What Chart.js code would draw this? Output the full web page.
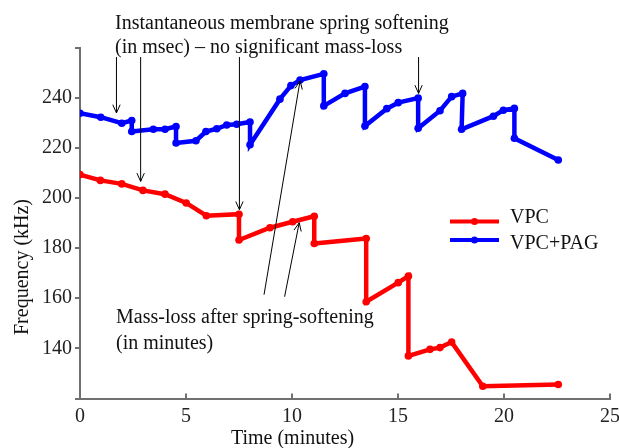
<!DOCTYPE html>
<html>
<head>
<meta charset="utf-8">
<script src="https://cdn.jsdelivr.net/npm/chart.js@4"></script>
<style>
  html, body { margin: 0; padding: 0; background: #fff; }
</style>
</head>
<body>
<canvas id="freqChart" width="619" height="448"></canvas>
<script>
// time (minutes) / frequency (kHz)
const vpcTime = [0, 0.96, 1.97, 2.97, 4.01, 5.01, 5.96, 7.5, 7.5, 8.96, 10.03, 11.05, 11.05,
    13.5, 13.5, 15.01, 15.49, 15.49, 16.51, 16.98, 17.53, 19.0, 22.56];
const vpcFreq = [209.3, 207.0, 205.6, 203.0, 201.5, 198.0, 192.9, 193.5, 183.2, 188.1, 190.5, 192.7, 181.8,
    183.8, 158.6, 166.2, 168.8, 137.0, 139.6, 140.3, 142.5, 124.9, 125.6];

const pagTime = [0, 0.98, 1.97, 2.44, 2.44, 3.46, 4.01, 4.53, 4.53, 5.47, 5.94, 6.45, 6.92, 7.39,
    8.02, 8.02, 9.43, 9.95, 10.38, 11.5, 11.5, 12.5, 13.44, 13.44, 14.47, 15.01, 15.95, 15.95,
    16.98, 17.53, 18.05, 18.0, 19.5, 19.97, 20.49, 20.49, 22.56];
const pagFreq = [233.8, 232.2, 229.8, 230.9, 226.5, 227.4, 227.4, 228.5, 221.9, 222.8, 226.5, 227.6, 229.1, 229.4,
    230.3, 221.2, 239.4, 244.8, 247.0, 249.5, 236.7, 241.7, 244.4, 228.7, 235.6, 238.0, 239.8, 227.8,
    234.8, 240.4, 241.7, 227.4, 232.6, 235.0, 235.7, 223.8, 215.1];

const seriesNames = ['VPC', 'VPC+PAG'];
const seriesColors = ['#ff0000', '#0000ff'];

// arrows (data coordinates): tail -> head
const arrowTail = [[1.72, 256.2], [2.86, 256.2], [7.52, 256.2], [15.97, 256.2], [8.68, 161.4], [9.65, 160.6]];
const arrowHead = [[1.72, 233.9], [2.86, 206.6], [7.52, 195.3], [15.97, 241.7], [10.38, 246.7], [10.34, 190.1]];

const serif = '"Liberation Serif", "Times New Roman", serif';
const axisGray = '#707070';

function toPoints(xs, ys) {
    return xs.map((x, i) => ({ x: x, y: ys[i] }));
}

function drawArrow(ctx, x1, y1, x2, y2) {
    const ang = Math.atan2(y2 - y1, x2 - x1);
    const len = 9, spread = 0.42;
    ctx.beginPath();
    ctx.moveTo(x1, y1);
    ctx.lineTo(x2, y2);
    ctx.moveTo(x2 - len * Math.cos(ang - spread), y2 - len * Math.sin(ang - spread));
    ctx.lineTo(x2, y2);
    ctx.lineTo(x2 - len * Math.cos(ang + spread), y2 - len * Math.sin(ang + spread));
    ctx.stroke();
}

const annotate = {
    id: 'annotate',
    afterDraw(chart) {
        const ctx = chart.ctx;
        const xs = chart.scales.x, ys = chart.scales.y;
        ctx.save();

        // x ticks point inward
        ctx.strokeStyle = axisGray;
        ctx.lineWidth = 2;
        xs.ticks.forEach(t => {
            if (t.value === 0) return;
            const px = xs.getPixelForValue(t.value);
            ctx.beginPath();
            ctx.moveTo(px, ys.bottom);
            ctx.lineTo(px, ys.bottom - 5);
            ctx.stroke();
        });

        // arrows
        ctx.strokeStyle = '#000';
        ctx.lineWidth = 1;
        arrowTail.forEach((t, i) => {
            const h = arrowHead[i];
            drawArrow(ctx, xs.getPixelForValue(t[0]), ys.getPixelForValue(t[1]),
                xs.getPixelForValue(h[0]), ys.getPixelForValue(h[1]));
        });

        // notes
        ctx.font = '20px ' + serif;
        ctx.fillStyle = '#111';
        ctx.textAlign = 'left';
        ctx.textBaseline = 'alphabetic';
        ctx.fillText('Instantaneous membrane spring softening', 115, 28.5);
        ctx.fillText('(in msec) \u2013 no significant mass-loss', 115, 53);
        ctx.fillText('Mass-loss after spring-softening', 116, 322.5);
        ctx.fillText('(in minutes)', 116, 348.5);

        // axis titles
        ctx.textAlign = 'center';
        ctx.fillText('Time (minutes)', 292.5, 444);
        ctx.save();
        ctx.translate(28, 267);
        ctx.rotate(-Math.PI / 2);
        ctx.fillText('Frequency (kHz)', 0, 0);
        ctx.restore();

        // legend
        const legY = [221.5, 240];
        const txtY = [223, 249];
        ctx.textAlign = 'left';
        seriesNames.forEach((name, i) => {
            ctx.strokeStyle = seriesColors[i];
            ctx.lineWidth = 4;
            ctx.beginPath();
            ctx.moveTo(450, legY[i]);
            ctx.lineTo(499, legY[i]);
            ctx.stroke();
            ctx.fillStyle = seriesColors[i];
            ctx.beginPath();
            ctx.arc(474.5, legY[i], 3.5, 0, Math.PI * 2);
            ctx.fill();
            ctx.fillStyle = '#111';
            ctx.fillText(name, 510, txtY[i]);
        });

        ctx.restore();
    }
};

document.addEventListener('DOMContentLoaded', function () {
    const ctx = document.getElementById('freqChart').getContext('2d');

    new Chart(ctx, {
        type: 'line',
        data: {
            datasets: [
                { label: seriesNames[0], data: toPoints(vpcTime, vpcFreq) },
                { label: seriesNames[1], data: toPoints(pagTime, pagFreq) }
            ].map((ds, i) => Object.assign(ds, {
                borderColor: seriesColors[i],
                backgroundColor: seriesColors[i],
                pointBackgroundColor: seriesColors[i],
                borderWidth: 4.5,
                pointRadius: 3.8,
                pointBorderWidth: 0,
                tension: 0,
                fill: false
            }))
        },
        options: {
            responsive: false,
            animation: false,
            devicePixelRatio: 1,
            layout: { padding: { top: 47.5, right: 0, left: 0, bottom: 0 } },
            scales: {
                x: {
                    type: 'linear',
                    min: 0,
                    max: 25,
                    afterFit: s => { s.height = 49.5; s.paddingRight = 9; },
                    ticks: {
                        stepSize: 5,
                        padding: 6,
                        color: '#222',
                        font: { family: serif, size: 20 }
                    },
                    grid: { drawOnChartArea: false, drawTicks: false },
                    border: { color: axisGray, width: 2 }
                },
                y: {
                    type: 'linear',
                    min: 120,
                    max: 260,
                    afterFit: s => { s.width = 80; },
                    ticks: {
                        stepSize: 20,
                        padding: 3,
                        color: '#222',
                        font: { family: serif, size: 20 },
                        callback: v => (v === 120 || v === 260) ? '' : v
                    },
                    grid: { drawOnChartArea: false, tickLength: 5, color: axisGray, lineWidth: 2 },
                    border: { color: axisGray, width: 2 }
                }
            },
            plugins: {
                legend: { display: false },
                tooltip: { enabled: false }
            }
        },
        plugins: [annotate]
    });
});
</script>
</body>
</html>
